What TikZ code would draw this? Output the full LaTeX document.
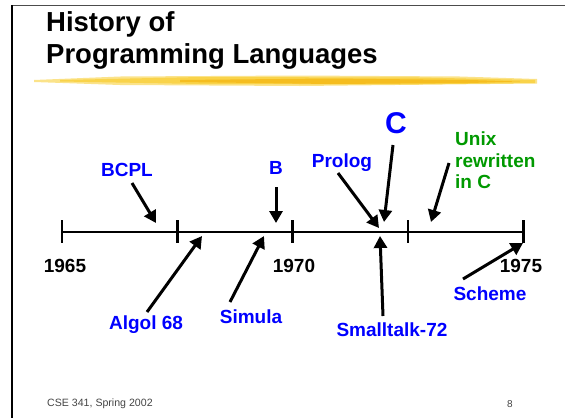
\documentclass[tikz,border=0pt]{standalone}
\usepackage{fontspec}
\setmainfont{Liberation Sans}
\usetikzlibrary{arrows.meta, positioning}
\definecolor{langblue}{HTML}{0000FF}
\definecolor{unixgreen}{HTML}{009900}
\definecolor{brushA}{HTML}{F9D34A}
\definecolor{brushB}{HTML}{F5BD1F}
\definecolor{brushC}{HTML}{FBE38A}
\definecolor{footgray}{HTML}{444444}

\begin{document}
\begin{tikzpicture}[
    x=1pt, y=-1pt,
    every node/.style={font=\bfseries\fontsize{19}{21}\selectfont, inner sep=0pt},
    lang/.style={text=langblue},
    year/.style={text=black},
    heading/.style={anchor=base west, font=\bfseries\fontsize{27.5}{32}\selectfont},
    axis/.style={line width=2.8pt, black},
    tick/.style={line width=2.6pt, black},
    pointer/.style={-{Triangle[length=12pt,width=13pt]}, line width=3pt, black}
]
\useasboundingbox (0,0) rectangle (565,418);

% slide frame
\draw[line width=1pt, black!70] (11,5) -- (565,5);
\draw[line width=2pt, black] (12,5) -- (12,418);

% title with yellow brush stroke
\node[heading] (title) at (46,31) {History of};
\node[heading] (title2) at (46,63) {Programming Languages};
\fill[brushC] (34,80) -- (120,76.5) -- (300,75.5) -- (460,76.5) -- (537,79) -- (537,83.5) -- (300,86) -- (120,85) -- (34,82) -- cycle;
\fill[brushA] (60,80) -- (200,77) -- (420,77.5) -- (535,80) -- (535,83) -- (400,84.5) -- (200,84) -- (60,81.5) -- cycle;
\fill[brushB] (180,80) -- (330,78.5) -- (470,80) -- (520,81.5) -- (470,83) -- (330,84) -- (180,82) -- cycle;

% timeline
\coordinate (t65) at (62,232);
\coordinate (t75) at (523.5,232);
\draw[axis] (t65) -- (t75);
\foreach \x in {62,177.3,292.5,408,523.5}
    \draw[tick] (\x,220) -- (\x,243);

\node[year] (y65) at (65,266) {1965};
\node[year] (y70) at (294,266) {1970};
\node[year] (y75) at (521,266) {1975};

% languages above the line
\node[lang] (bcpl) at (127,170) {BCPL};
\node[lang] (b) at (276,168) {B};
\node[lang] (prolog) at (342,163) {Prolog};
\node[lang, font=\bfseries\fontsize{30}{32}\selectfont] (c) at (396,123) {C};
\node[text=unixgreen, anchor=north west, align=left, font=\bfseries\fontsize{19}{21.5}\selectfont] (unix) at (455,132) {Unix\\rewritten\\in C};

% languages below the line
\node[lang] (algol) at (146,325) {Algol 68};
\node[lang] (simula) at (251,317) {Simula};
\node[lang] (smalltalk) at (392,330) {Smalltalk-72};
\node[lang] (scheme) at (490,294) {Scheme};

% arrow ends
\coordinate (bcplA) at (132,183);  \coordinate (bcplB) at (156,223);
\coordinate (bA) at (276,187);     \coordinate (bB) at (276,223);
\coordinate (algolA) at (147,312); \coordinate (algolB) at (202,236);
\coordinate (simA) at (230,302);   \coordinate (simB) at (264,236);
\coordinate (proA) at (338,173);   \coordinate (proB) at (379,228);
\coordinate (cA) at (393,145);     \coordinate (cB) at (384,222);
\coordinate (stA) at (383,316);    \coordinate (stB) at (380,236);
\coordinate (unixA) at (449,163);  \coordinate (unixB) at (431,222);
\coordinate (schA) at (463,279);   \coordinate (schB) at (523,243);

\draw[pointer] (bcplA) -- (bcplB);
\draw[pointer] (bA) -- (bB);
\draw[pointer] (algolA) -- (algolB);
\draw[pointer] (simA) -- (simB);
\draw[pointer] (proA) -- (proB);
\draw[pointer] (cA) -- (cB);
\draw[pointer] (stA) -- (stB);
\draw[pointer] (unixA) -- (unixB);
\draw[pointer] (schA) -- (schB);

% footer
\node[anchor=base west, font=\fontsize{10.6}{12}\selectfont, text=footgray] (foot) at (47,406) {CSE 341, Spring 2002};
\node[anchor=base west, font=\fontsize{10}{12}\selectfont, text=footgray] (page) at (507,407) {8};
\end{tikzpicture}
\end{document}
